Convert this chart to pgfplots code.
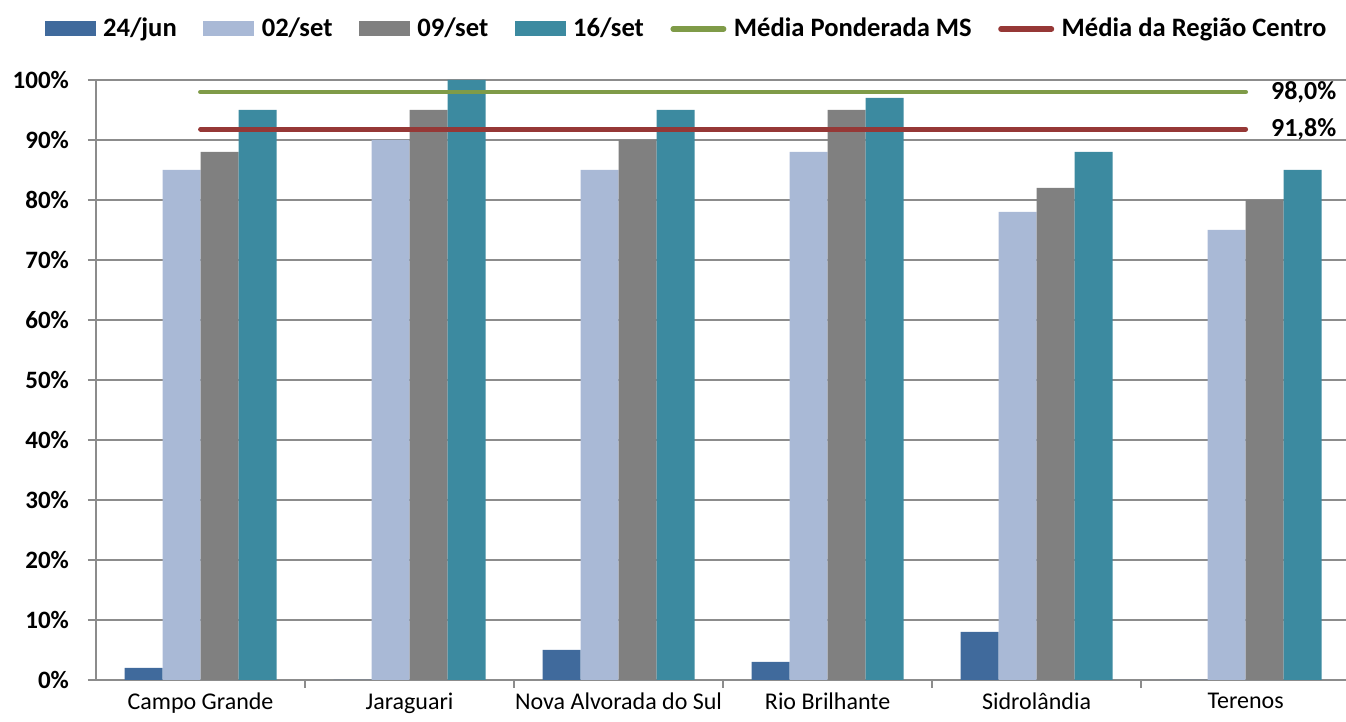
\documentclass[border=0pt]{standalone}
\usepackage{pgfplots}
\pgfplotsset{compat=1.18}
\usepackage{fontspec}
\setmainfont{Carlito}
\definecolor{cA}{RGB}{64,106,156}
\definecolor{cB}{RGB}{169,185,214}
\definecolor{cC}{RGB}{128,128,128}
\definecolor{cD}{RGB}{60,138,160}
\definecolor{mgreen}{RGB}{127,155,72}
\definecolor{mred}{RGB}{150,56,54}
\definecolor{gridgray}{RGB}{140,140,140}
\begin{document}
\begin{tikzpicture}
\begin{axis}[
  scale only axis, width=625pt, height=300pt,
  xmin=-0.5, xmax=5.48, ymin=0, ymax=100,
  clip=false,
  axis x line*=bottom, axis y line*=left,
  axis line style={draw=gridgray, line width=0.8pt, -},
  tick align=outside,
  major tick length=4pt, minor tick length=4pt,
  ytick={0,10,...,100},
  yticklabel={\fontsize{12.5}{14}\selectfont\bfseries\pgfmathprintnumber[assume math mode=true]{\tick}\%},
  yticklabel style={xshift=-6pt},
  ymajorgrids, grid style={gridgray, line width=0.8pt},
  ytick style={gridgray, line width=0.8pt},
  xtick={0,1,2,3,4,5},
  xticklabels={Campo Grande, Jaraguari, Nova Alvorada do Sul, Rio Brilhante, Sidrolândia, Terenos},
  xticklabel style={font=\fontsize{12}{14}\selectfont, yshift=1pt},
  minor xtick={0.5,1.5,2.5,3.5,4.5},
  major x tick style={draw=none},
  minor x tick style={gridgray, line width=0.8pt},
  legend columns=-1,
  legend cell align=left,
  legend style={at={(0.473,1.085)}, anchor=center, draw=none, fill=none,
    font=\bfseries\fontsize{13.3}{15}\selectfont, inner sep=0pt,
    nodes={inner sep=1.75pt},
    /tikz/every odd column/.append style={column sep=2pt},
    /tikz/every even column/.append style={column sep=11.5pt}},
]
\addplot[ybar, bar width=19pt, bar shift=-28.5pt, fill=cA, draw=none,
  legend image code/.code={\fill[cA] (0pt,-3.75pt) rectangle (25.5pt,3.75pt);}]
  coordinates {(0,2) (1,0) (2,5) (3,3) (4,8) (5,0)};
\addlegendentry{24/jun}
\addplot[ybar, bar width=19pt, bar shift=-9.5pt, fill=cB, draw=none,
  legend image code/.code={\fill[cB] (0pt,-3.75pt) rectangle (25.5pt,3.75pt);}]
  coordinates {(0,85) (1,90) (2,85) (3,88) (4,78) (5,75)};
\addlegendentry{02/set}
\addplot[ybar, bar width=19pt, bar shift=9.5pt, fill=cC, draw=none,
  legend image code/.code={\fill[cC] (0pt,-3.75pt) rectangle (25.5pt,3.75pt);}]
  coordinates {(0,88) (1,95) (2,90) (3,95) (4,82) (5,80)};
\addlegendentry{09/set}
\addplot[ybar, bar width=19pt, bar shift=28.5pt, fill=cD, draw=none,
  legend image code/.code={\fill[cD] (0pt,-3.75pt) rectangle (25.5pt,3.75pt);}]
  coordinates {(0,95) (1,100) (2,95) (3,97) (4,88) (5,85)};
\addlegendentry{16/set}
\addplot[mgreen, line width=2.4pt, line cap=round, mark=none,
  legend image code/.code={\draw[mgreen, line width=2.8pt, line cap=round] (1.4pt,0pt) -- (26.6pt,0pt);}]
  coordinates {(0,98) (5,98)}
  node[pos=1, anchor=west, xshift=11.5pt, inner sep=0pt, text=black, font=\bfseries\fontsize{13}{15}\selectfont] {98,0\%};
\addlegendentry{Média Ponderada MS}
\addplot[mred, line width=2.4pt, line cap=round, mark=none,
  legend image code/.code={\draw[mred, line width=2.8pt, line cap=round] (1.4pt,0pt) -- (26.6pt,0pt);}]
  coordinates {(0,91.8) (5,91.8)}
  node[pos=1, anchor=west, xshift=11.5pt, inner sep=0pt, text=black, font=\bfseries\fontsize{13}{15}\selectfont] {91,8\%};
\addlegendentry{Média da Região Centro}
\coordinate (sw) at (rel axis cs:0,0);
\end{axis}
\pgfresetboundingbox
\path[use as bounding box] (sw) ++(-48pt,-21pt) rectangle ++(673pt,361pt);
\end{tikzpicture}
\end{document}
